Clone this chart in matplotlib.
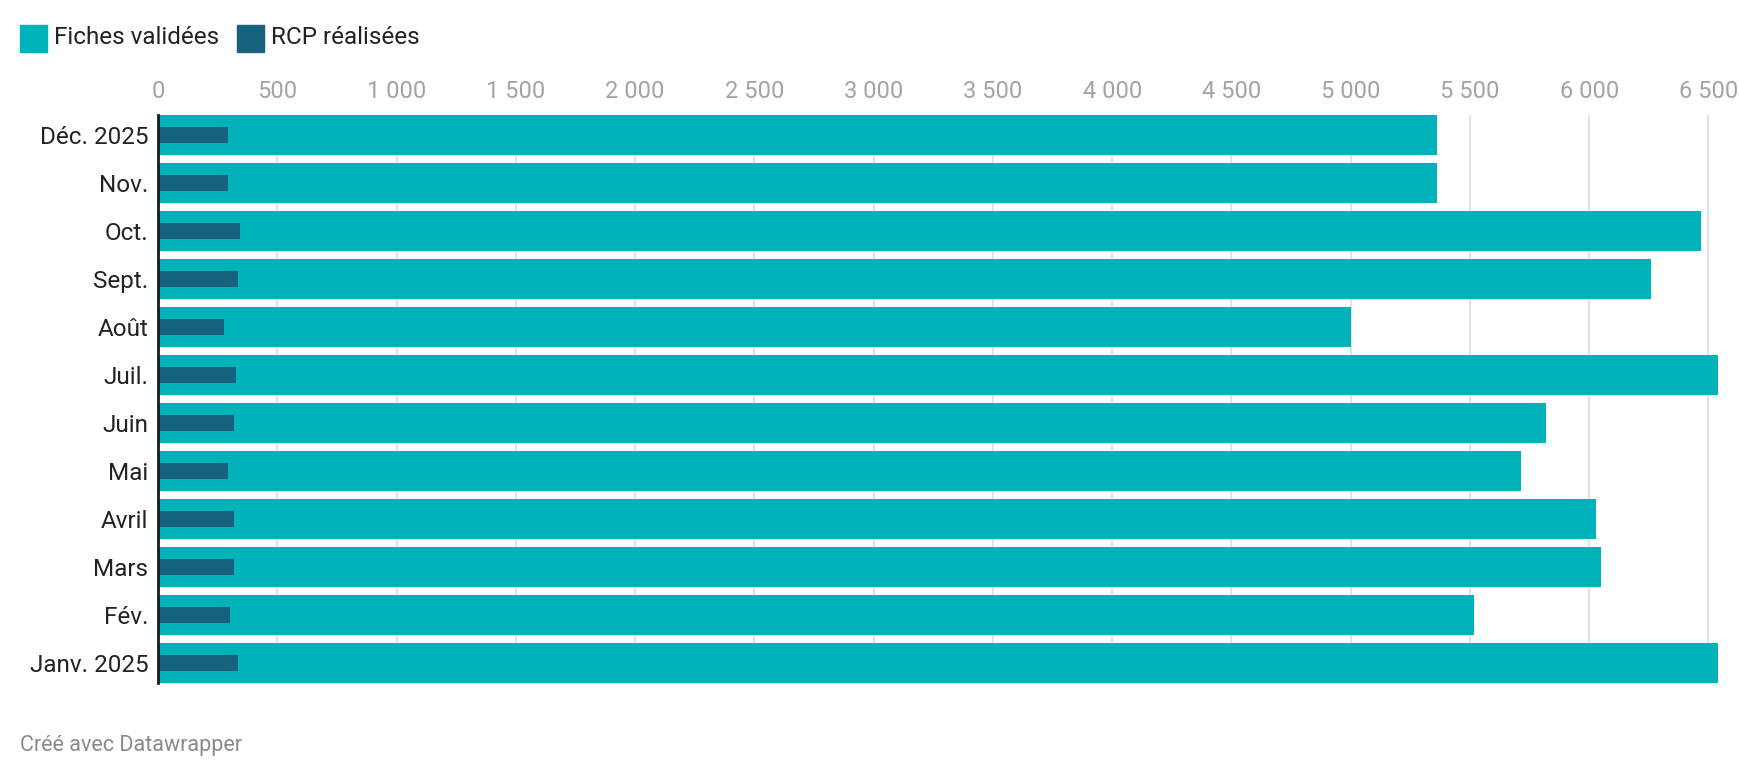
import matplotlib
matplotlib.use('Agg')
import matplotlib.pyplot as plt
from matplotlib.ticker import FuncFormatter, MultipleLocator
import numpy as np

plt.rcParams['font.family'] = ['Roboto', 'DejaVu Sans']

# months, bottom (Janv.) to top (Déc.)
months = ['Janv. 2025', 'Fév.', 'Mars', 'Avril', 'Mai', 'Juin',
          'Juil.', 'Août', 'Sept.', 'Oct.', 'Nov.', 'Déc. 2025']
fiches = [6540, 5515, 6050, 6028, 5716, 5818, 6540, 5000, 6260, 6470, 5362, 5362]
rcp = [336, 302, 319, 319, 294, 319, 327, 277, 336, 344, 294, 294]

teal = '#00b2b9'
dark = '#16617b'

fig = plt.figure(figsize=(17.4, 7.8), dpi=100)
ax = fig.add_axes([158/1740, 1-683/780, (1718-158)/1740, (683-115)/780])

n = len(months)
ax.barh(np.arange(n), fiches, height=0.83, color=teal, zorder=2)
ax.barh(np.arange(n), rcp, height=0.34, color=dark, zorder=3)

ax.set_ylim(-0.415, n - 1 + 0.415)
ax.set_xlim(0, max(fiches))

ax.set_yticks(np.arange(n))
ax.set_yticklabels(months, fontsize=17.5, color='#222222')
ax.tick_params(axis='y', length=0, pad=7)

ax.xaxis.tick_top()
ax.xaxis.set_major_locator(MultipleLocator(500))
ax.xaxis.set_major_formatter(FuncFormatter(lambda v, p: f"{int(v):,}".replace(',', ' ')))
ax.tick_params(axis='x', length=0, pad=8.5, labelsize=17, labelcolor='#a3a3a3')
ax.grid(axis='x', color='#e2e2e2', linewidth=1.5, zorder=0)
ax.set_axisbelow(True)

for s in ['top', 'right', 'bottom']:
    ax.spines[s].set_visible(False)
ax.spines['left'].set_color('#1a1a1a')
ax.spines['left'].set_linewidth(2)
ax.spines['left'].set_zorder(4)

# legend
fig.patches.append(plt.Rectangle((20/1740, 1-52/780), 27/1740, 27/780,
                                 transform=fig.transFigure, color=teal))
fig.text(54/1740, 1-38/780, 'Fiches validées', fontsize=17.5, color='#222222', va='center')
fig.patches.append(plt.Rectangle((237/1740, 1-52/780), 27/1740, 27/780,
                                 transform=fig.transFigure, color=dark))
fig.text(271/1740, 1-38/780, 'RCP réalisées', fontsize=17.5, color='#222222', va='center')

fig.text(20/1740, 1-746/780, 'Créé avec Datawrapper', fontsize=15.5, color='#8a8a8a', va='center')

fig.savefig('out.png', dpi=100)
